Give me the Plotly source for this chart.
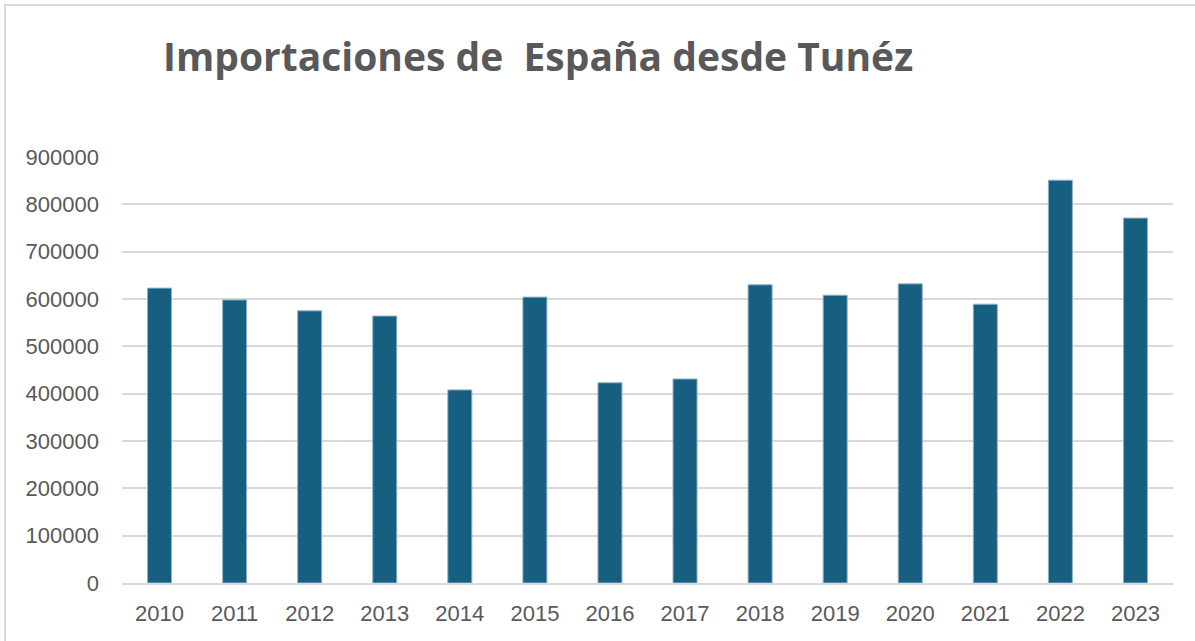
import plotly.graph_objects as go

# Importaciones de España desde Túnez
years = ["2010", "2011", "2012", "2013", "2014", "2015", "2016",
         "2017", "2018", "2019", "2020", "2021", "2022", "2023"]
imports = [623000, 598000, 575000, 564000, 408000, 604000, 423000,
           431000, 630000, 608000, 632000, 589000, 851000, 771000]
y_ticks = [0, 100000, 200000, 300000, 400000, 500000, 600000, 700000, 800000, 900000]

W, H = 1195, 641
L, R, T, B = 122, 22, 157, 58
pw, ph = W - L - R, H - T - B

fig = go.Figure()
fig.add_trace(go.Bar(
    x=years, y=imports,
    marker=dict(color="#165f80", line=dict(color="#8fb3c6", width=1)),
))

fig.update_layout(
    width=W, height=H,
    margin=dict(l=L, r=R, t=T, b=B),
    paper_bgcolor="white", plot_bgcolor="white",
    bargap=0.68,
    showlegend=False,
    title=dict(
        text="<b>Importaciones de\u00a0 España desde Tunéz</b>",
        x=163 / W, xanchor="left", y=1 - 57 / H, yanchor="middle",
        font=dict(family="Open Sans, Arial, sans-serif", size=39, color="#595959"),
    ),
    font=dict(family="Liberation Sans, Arial, sans-serif", size=22, color="#595959"),
)
fig.update_xaxes(
    showgrid=False, showline=True, linecolor="#d9d9d9", linewidth=2,
    ticks="", ticklabelstandoff=10,
    tickfont=dict(size=22, color="#595959"),
)
fig.update_yaxes(
    range=[0, 900000], tickvals=y_ticks, tickformat="d",
    showgrid=True, gridcolor="#d9d9d9", gridwidth=1.5,
    zeroline=False, showline=False, ticks="", ticklen=0,
    ticklabelstandoff=22,
    tickfont=dict(size=22, color="#595959"),
)

# chart border (light gray frame at top-left)
fig.add_shape(
    type="rect", xref="paper", yref="paper",
    x0=(5 - L) / pw, x1=(W + 10 - L) / pw,
    y0=-(B + 10) / ph, y1=1 + (T - 5) / ph,
    line=dict(color="#d9d9d9", width=2), fillcolor="rgba(0,0,0,0)",
    layer="below",
)

fig.write_html("out.html", config={"displayModeBar": False},
               post_script="document.body.style.margin='0';")
